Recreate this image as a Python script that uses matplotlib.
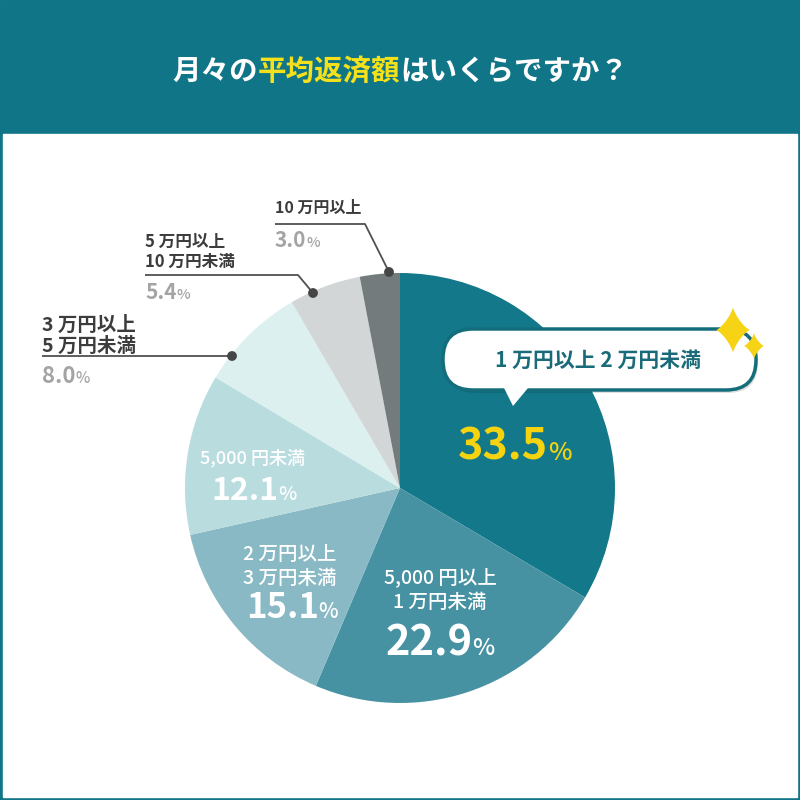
import numpy as np
import matplotlib
matplotlib.use('Agg')
import matplotlib.pyplot as plt
from matplotlib.patches import Rectangle, FancyBboxPatch, Polygon, Circle

plt.rcParams['font.family'] = ['Noto Sans CJK JP', 'DejaVu Sans']

# DATA
labels = ['1 万円以上 2 万円未満', '5,000 円以上\n1 万円未満', '2 万円以上\n3 万円未満',
          '5,000 円未満', '3 万円以上\n5 万円未満', '5 万円以上\n10 万円未満', '10 万円以上']
shares = [33.5, 22.9, 15.1, 12.1, 8.0, 5.4, 3.0]
colors = ['#13798a', '#4692a2', '#89b9c4', '#b9dcdf', '#ddf0f0', '#d2d6d7', '#737b7d']
title_parts = ['月々の', '平均返済額', 'はいくらですか？']

TEAL = '#117588'
YELLOW = '#f4e11b'
GOLD = '#f5d30f'

fig = plt.figure(figsize=(8, 8), dpi=100)
ax = fig.add_axes([0, 0, 1, 1])


def Y(py):
    # image pixel row -> data y
    return 800 - py


# background
ax.add_patch(Rectangle((0, 0), 800, 800, color=TEAL, zorder=0))
ax.add_patch(Rectangle((3, 3), 794, Y(134) - 3, color='white', zorder=0.5))

# pie
ax.pie(shares, colors=colors, startangle=90, counterclock=False,
       center=(400, Y(488)), radius=215, frame=True,
       wedgeprops=dict(linewidth=0, zorder=1))
ax.set_xlim(0, 800)
ax.set_ylim(0, 800)
ax.set_aspect('auto')
ax.axis('off')

renderer = fig.canvas.get_renderer()


def pieces(x, py, parts, ha='center'):
    # parts: (text, size, color, weight) drawn on one baseline
    texts = []
    for s, size, color, weight in parts:
        t = ax.text(0, Y(py), s, fontsize=size, color=color, fontweight=weight,
                    ha='left', va='baseline', zorder=6)
        texts.append(t)
    widths = [t.get_window_extent(renderer).width for t in texts]
    start = x - sum(widths) / 2 if ha == 'center' else x
    for t, w in zip(texts, widths):
        t.set_x(start)
        start += w


# title
pieces(400, 80, [(title_parts[0], 20.5, 'white', 'bold'),
                 (title_parts[1], 20.5, YELLOW, 'bold'),
                 (title_parts[2], 20.5, 'white', 'bold')])

# speech bubble
shadow = FancyBboxPatch((446, Y(393)), 312, 60,
                        boxstyle='round,pad=0,rounding_size=30',
                        fc='#000000', ec='none', alpha=0.12, zorder=2)
ax.add_patch(shadow)
bubble = FancyBboxPatch((443, Y(390)), 313, 61,
                        boxstyle='round,pad=0,rounding_size=30',
                        fc='white', ec='#146d7b', lw=2.5, zorder=3)
ax.add_patch(bubble)
ax.add_patch(Polygon([(504, Y(388)), (528, Y(388)), (513, Y(406))],
                     closed=True, fc='white', ec='none', zorder=4))
ax.text(598, Y(360), labels[0], fontsize=15, fontweight='bold', color='#1a6b7a',
        ha='center', va='center', zorder=6)


# sparkles
def sparkle(cx, cy, hw, hh):
    t = np.linspace(0, 2 * np.pi, 200)
    c, s = np.cos(t), np.sin(t)
    xs = cx + hw * np.sign(c) * np.abs(c) ** 2.6
    ys = cy + hh * np.sign(s) * np.abs(s) ** 2.6
    ax.add_patch(Polygon(np.column_stack([xs, ys]), closed=True,
                         fc='#f7d316', ec='none', zorder=7))


sparkle(733, Y(330), 17, 23)
sparkle(754, Y(346), 10, 13)

# values inside the pie
pieces(515, 460, [('33.5', 31, GOLD, 'bold'), ('%', 18, GOLD, 'medium')])

ax.text(440, Y(577), '5,000 円以上', fontsize=14, fontweight='medium', color='white',
        ha='center', va='center', zorder=6)
ax.text(440, Y(603), '1 万円未満', fontsize=14, fontweight='medium', color='white',
        ha='center', va='center', zorder=6)
pieces(440, 655, [('22.9', 30, 'white', 'bold'), ('%', 17, 'white', 'medium')])

ax.text(290, Y(555), '2 万円以上', fontsize=14, fontweight='medium', color='white',
        ha='center', va='center', zorder=6)
ax.text(290, Y(578), '3 万円未満', fontsize=14, fontweight='medium', color='white',
        ha='center', va='center', zorder=6)
pieces(292, 618, [('15.1', 25, 'white', 'bold'), ('%', 15, 'white', 'medium')])

ax.text(252, Y(458), labels[3], fontsize=13, fontweight='medium', color='white',
        ha='center', va='center', zorder=6)
pieces(254, 500, [('12.1', 23, 'white', 'bold'), ('%', 14, 'white', 'medium')])

# outside labels with leader lines
DARK = '#3c3c3c'
GREY = '#a4a4a4'
LINE = '#505050'


def leader(pts, dot):
    xs = [p[0] for p in pts]
    ys = [Y(p[1]) for p in pts]
    ax.plot(xs, ys, color=LINE, lw=1.3, zorder=5, solid_capstyle='butt')
    ax.add_patch(Circle((dot[0], Y(dot[1])), 4.2, color='#454545', zorder=6))


# 8.0%
ax.text(42, Y(325), '3 万円以上', fontsize=14, fontweight='bold', color=DARK, ha='left', va='center')
ax.text(42, Y(346), '5 万円未満', fontsize=14, fontweight='bold', color=DARK, ha='left', va='center')
leader([(42, 356), (232, 356)], (232, 356))
pieces(42, 383, [('8.0', 16, GREY, 'bold'), ('%', 11, GREY, 'medium')], ha='left')

# 5.4%
ax.text(145, Y(242), '5 万円以上', fontsize=12, fontweight='bold', color=DARK, ha='left', va='center')
ax.text(145, Y(262), '10 万円未満', fontsize=12, fontweight='bold', color=DARK, ha='left', va='center')
leader([(145, 275), (298, 275), (313, 293)], (313, 293))
pieces(145, 299, [('5.4', 15, GREY, 'bold'), ('%', 10.5, GREY, 'medium')], ha='left')

# 3.0%
ax.text(275, Y(208), '10 万円以上', fontsize=11.5, fontweight='bold', color=DARK, ha='left', va='center')
leader([(275, 224), (365, 224), (389, 272)], (389, 272))
pieces(275, 247, [('3.0', 15, GREY, 'bold'), ('%', 10.5, GREY, 'medium')], ha='left')

fig.savefig('out.png', dpi=100)
